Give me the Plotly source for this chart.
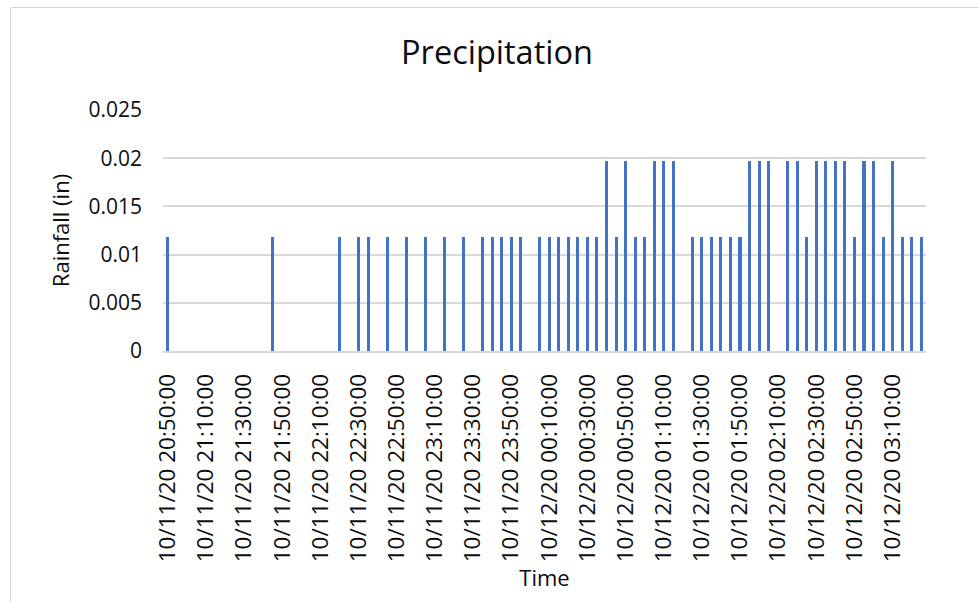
import plotly.graph_objects as go
import pandas as pd

# Rainfall tips (time, inches)
times = [
    "2020-10-11 20:50", "2020-10-11 21:45", "2020-10-11 22:20", "2020-10-11 22:30",
    "2020-10-11 22:35", "2020-10-11 22:45", "2020-10-11 22:55", "2020-10-11 23:05",
    "2020-10-11 23:15", "2020-10-11 23:25", "2020-10-11 23:35", "2020-10-11 23:40",
    "2020-10-11 23:45", "2020-10-11 23:50", "2020-10-11 23:55", "2020-10-12 00:05",
    "2020-10-12 00:10", "2020-10-12 00:15", "2020-10-12 00:20", "2020-10-12 00:25",
    "2020-10-12 00:30", "2020-10-12 00:35", "2020-10-12 00:40", "2020-10-12 00:45",
    "2020-10-12 00:50", "2020-10-12 00:55", "2020-10-12 01:00", "2020-10-12 01:05",
    "2020-10-12 01:10", "2020-10-12 01:15", "2020-10-12 01:25", "2020-10-12 01:30",
    "2020-10-12 01:35", "2020-10-12 01:40", "2020-10-12 01:45", "2020-10-12 01:50",
    "2020-10-12 01:55", "2020-10-12 02:00", "2020-10-12 02:05", "2020-10-12 02:15",
    "2020-10-12 02:20", "2020-10-12 02:25", "2020-10-12 02:30", "2020-10-12 02:35",
    "2020-10-12 02:40", "2020-10-12 02:45", "2020-10-12 02:50", "2020-10-12 02:55",
    "2020-10-12 03:00", "2020-10-12 03:05", "2020-10-12 03:10", "2020-10-12 03:15",
    "2020-10-12 03:20", "2020-10-12 03:25",
]
rain = [
    0.0118, 0.0118, 0.0118, 0.0118,
    0.0118, 0.0118, 0.0118, 0.0118,
    0.0118, 0.0118, 0.0118, 0.0118,
    0.0118, 0.0118, 0.0118, 0.0118,
    0.0118, 0.0118, 0.0118, 0.0118,
    0.0118, 0.0118, 0.0197, 0.0118,
    0.0197, 0.0118, 0.0118, 0.0197,
    0.0197, 0.0197, 0.0118, 0.0118,
    0.0118, 0.0118, 0.0118, 0.0118,
    0.0197, 0.0197, 0.0197, 0.0197,
    0.0197, 0.0118, 0.0197, 0.0197,
    0.0197, 0.0197, 0.0118, 0.0197,
    0.0197, 0.0118, 0.0197, 0.0118,
    0.0118, 0.0118,
]

x_ticks = [
    "2020-10-11 20:50", "2020-10-11 21:10", "2020-10-11 21:30", "2020-10-11 21:50",
    "2020-10-11 22:10", "2020-10-11 22:30", "2020-10-11 22:50", "2020-10-11 23:10",
    "2020-10-11 23:30", "2020-10-11 23:50", "2020-10-12 00:10", "2020-10-12 00:30",
    "2020-10-12 00:50", "2020-10-12 01:10", "2020-10-12 01:30", "2020-10-12 01:50",
    "2020-10-12 02:10", "2020-10-12 02:30", "2020-10-12 02:50", "2020-10-12 03:10",
]
y_ticks = [0, 0.005, 0.01, 0.015, 0.02, 0.025]
y_labels = ["0", "0.005", "0.01", "0.015", "0.02", "0.025"]

x_range = ["2020-10-11 20:47:30", "2020-10-12 03:27:30"]
interval_ms = 5 * 60 * 1000

FONT = "Open Sans"
TXT = "#0d0d0d"
GRID = "#D9D9D9"

fig = go.Figure()
fig.add_trace(go.Bar(
    x=pd.to_datetime(times), y=rain,
    width=interval_ms * 0.32,
    marker=dict(color="#4472C4", line=dict(width=0)),
))

fig.update_layout(
    width=979, height=602,
    margin=dict(l=163, r=53, t=110, b=251),
    paper_bgcolor="white", plot_bgcolor="white",
    showlegend=False,
    font=dict(family=FONT, color=TXT, size=21),
    title=dict(text="Precipitation", x=497 / 979, xref="container", xanchor="center",
               y=1 - 53 / 602, yref="container", yanchor="middle",
               font=dict(family=FONT, size=32.5, color=TXT)),
    bargap=0,
)
fig.update_xaxes(
    type="date", range=x_range,
    tickvals=pd.to_datetime(x_ticks),
    tickformat="%m/%d/%y %H:%M:%S",
    tickangle=-90, tickfont=dict(size=22.5, color=TXT),
    showgrid=False, showline=True, linecolor=GRID, linewidth=1.5,
    ticks="", ticklabelstandoff=12,
    title=dict(text="Time", standoff=8, font=dict(size=22, color=TXT)),
    zeroline=False,
)
fig.update_yaxes(
    range=[0, 0.025], tickvals=y_ticks, ticktext=y_labels,
    showgrid=True, gridcolor=GRID, gridwidth=1.5,
    showline=False, zeroline=False, ticks="", ticklabelstandoff=20,
    tickfont=dict(size=21, color=TXT),
    title=dict(text="Rainfall (in)", standoff=12, font=dict(size=22, color=TXT)),
)

# chart-area border (left and top edges visible in the frame)
fig.add_shape(type="rect", xref="paper", yref="paper",
              x0=(10.5 - 163) / 763, x1=(984 - 163) / 763,
              y0=(351 - 640) / 241, y1=(351 - 7.5) / 241,
              line=dict(color=GRID, width=1), fillcolor="rgba(0,0,0,0)", layer="below")

fig.write_html("out.html")
